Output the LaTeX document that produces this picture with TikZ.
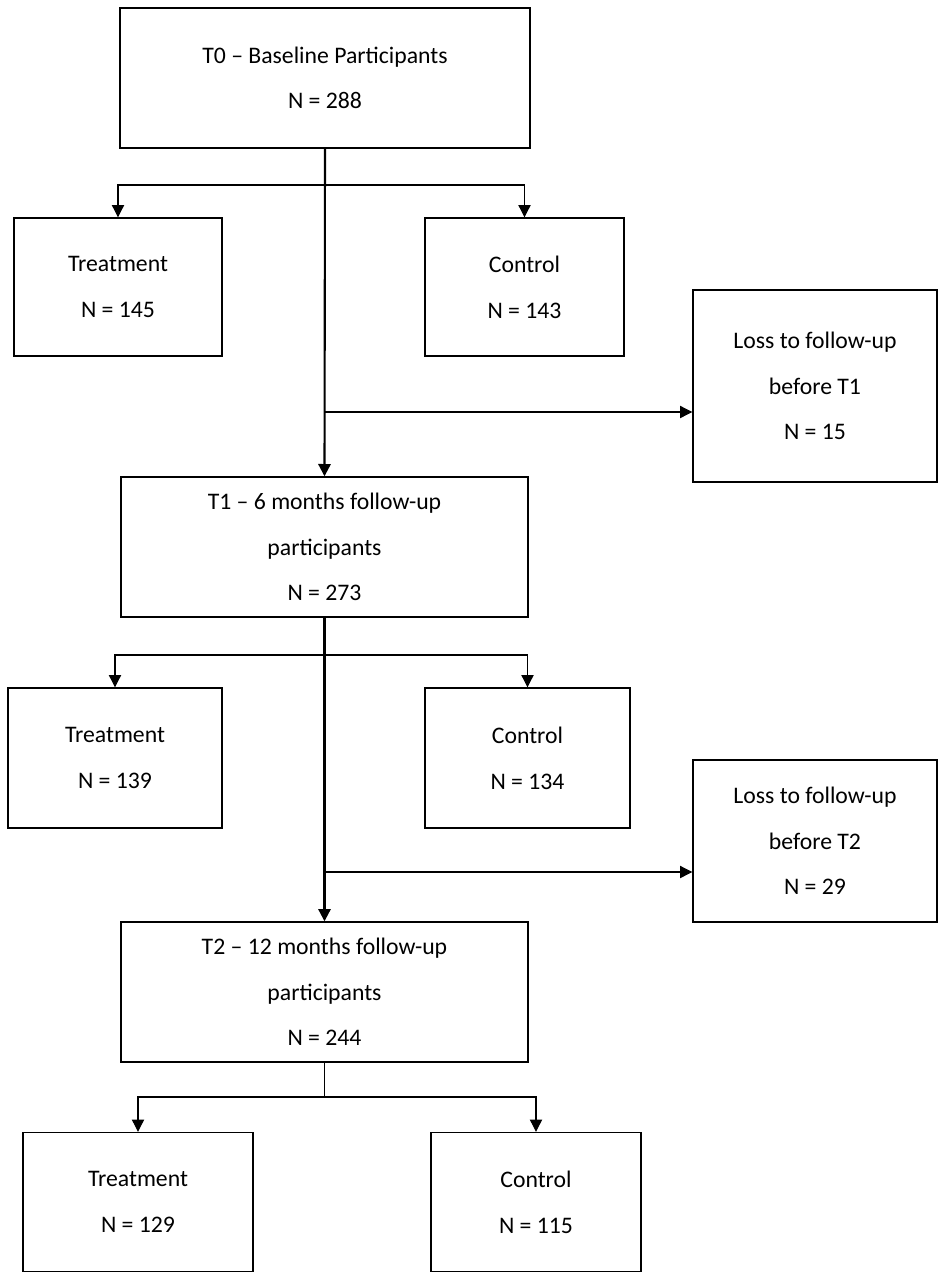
\documentclass[tikz,border=0pt]{standalone}
\usepackage{fontspec}
\setmainfont{Carlito}
\usetikzlibrary{arrows.meta}
\tikzset{
  box/.style={draw, line width=0.8pt, align=center, font=\fontsize{13.5}{26}\selectfont},
  trunk/.style={line width=1.2pt, -{Triangle[length=7pt,width=7pt]}},
  branch/.style={line width=0.6pt, -{Triangle[length=7pt,width=7pt]}}
}
\begin{document}
\begin{tikzpicture}
\useasboundingbox (0,0) rectangle (18.96,-25.6);

% time points
\node[box, minimum width=8.2cm, minimum height=2.8cm] (t0) at (6.5,-1.56) {T0 -- Baseline Participants\\N = 288};
\node[box, minimum width=8.14cm, minimum height=2.8cm] (t1) at (6.49,-10.94) {T1 -- 6 months follow-up\\participants\\N = 273};
\node[box, minimum width=8.14cm, minimum height=2.8cm] (t2) at (6.49,-19.84) {T2 -- 12 months follow-up\\participants\\N = 244};

% groups
\node[box, minimum width=4.16cm, minimum height=2.76cm] (treatA) at (2.36,-5.74) {Treatment\\N = 145};
\node[box, minimum width=3.98cm, minimum height=2.76cm] (ctrlA) at (10.49,-5.74) {Control\\N = 143};
\node[box, minimum width=4.28cm, minimum height=2.8cm] (treatB) at (2.3,-15.16) {Treatment\\N = 139};
\node[box, minimum width=4.1cm, minimum height=2.8cm] (ctrlB) at (10.55,-15.16) {Control\\N = 134};
\node[box, minimum width=4.6cm, minimum height=2.78cm] (treatC) at (2.76,-24.04) {Treatment\\N = 129};
\node[box, minimum width=4.2cm, minimum height=2.78cm] (ctrlC) at (10.72,-24.04) {Control\\N = 115};

% losses
\node[box, minimum width=4.88cm, minimum height=3.84cm] (lossA) at (16.3,-7.72) {Loss to follow-up\\before T1\\N = 15};
\node[box, minimum width=4.88cm, minimum height=3.24cm] (lossB) at (16.3,-16.82) {Loss to follow-up\\before T2\\N = 29};

% junctions
\coordinate (splitA) at (6.5,-3.7);
\coordinate (dropA) at (6.5,-8.24);
\coordinate (splitB) at (6.5,-13.1);
\coordinate (dropB) at (6.5,-17.44);
\coordinate (splitC) at (6.49,-21.94);

\draw[trunk] (t0.south) -- (t1.north);
\draw[trunk] (t1.south) -- (t2.north);
\draw[line width=0.6pt] (t2.south) -- (splitC);

\draw[branch] (splitA) -| (treatA.north);
\draw[branch] (splitA) -| (ctrlA.north);
\draw[branch] (splitB) -| (treatB.north);
\draw[branch] (splitB) -| (ctrlB.north);
\draw[branch] (splitC) -| (treatC.north);
\draw[branch] (splitC) -| (ctrlC.north);

\draw[branch] (dropA) -- (lossA.west |- dropA);
\draw[branch] (dropB) -- (lossB.west |- dropB);
\end{tikzpicture}
\end{document}
